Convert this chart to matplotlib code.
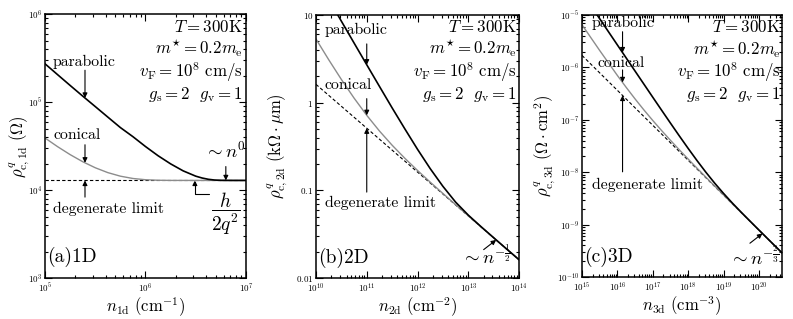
import numpy as np
import matplotlib
matplotlib.use("Agg")
import matplotlib.pyplot as plt
from matplotlib.ticker import FixedLocator, LogLocator, FuncFormatter, NullFormatter

plt.rcParams['font.family'] = 'serif'
plt.rcParams['font.serif'] = ['cmr10']
plt.rcParams['mathtext.fontset'] = 'cm'
plt.rcParams['axes.unicode_minus'] = False
plt.rcParams['axes.formatter.use_mathtext'] = True

# ---- data (log10 of density, resistance values) ----
# (a) 1D, n in cm^-1, rho in Ohm
logn_1d_par = [5.0, 5.125, 5.25, 5.375, 5.5, 5.625, 5.75, 5.875, 6.0, 6.125, 6.25,
               6.375, 6.5, 6.5625, 6.625, 6.6875, 6.75, 6.875, 7.0]
rho_1d_par = [2.722e5, 2.050e5, 1.546e5, 1.170e5, 8.90e4, 6.759e4, 5.14e4, 4.05e4,
              3.13e4, 2.462e4, 1.99e4, 1.657e4, 1.443e4, 1.376e4, 1.330e4, 1.304e4,
              1.294e4, 1.2907e4, 1.2906e4]
logn_1d_con = [5.0, 5.125, 5.25, 5.375, 5.5, 5.625, 5.75, 5.875, 6.0, 6.125, 6.25, 6.5, 7.0]
rho_1d_con = [3.914e4, 3.121e4, 2.535e4, 2.106e4, 1.798e4, 1.5836e4, 1.4427e4, 1.3582e4,
              1.3147e4, 1.2968e4, 1.2916e4, 1.2906e4, 1.2906e4]
logn_1d_deg = [5.0, 7.0]
rho_1d_deg = [1.2906e4, 1.2906e4]

# (b) 2D, n in cm^-2, rho in kOhm um
logn_2d = [10.0, 10.25, 10.5, 10.75, 11.0, 11.25, 11.5, 11.75, 12.0, 12.25, 12.5,
           12.75, 13.0, 13.25, 13.5, 13.75, 14.0]
rho_2d_par = [26.8, 15.10, 8.50, 4.794, 2.707, 1.534, 0.872, 0.503, 0.294, 0.177, 0.1112,
              0.0735, 0.0522, 0.0386, 0.02882, 0.02157, 0.01618]
rho_2d_con = [5.32, 3.093, 1.839, 1.128, 0.7173, 0.4752, 0.3271, 0.2322, 0.1686, 0.1241,
              0.09213, 0.06869, 0.05135, 0.03844, 0.02880, 0.02158, 0.01618]
logn_2d_deg = [10.0, 14.0]
rho_2d_deg = [1.617, 0.01617]

# (c) 3D, n in cm^-3, rho in Ohm cm^2
logn_3d = [15.0, 15.5, 16.0, 16.5, 17.0, 17.25, 17.5, 17.75, 18.0, 18.25, 18.5, 18.75,
           19.0, 19.25, 19.5, 19.75, 20.0, 20.25, 20.5, 20.65]
rho_3d_par = [2.68e-5, 8.48e-6, 2.683e-6, 8.50e-7, 2.698e-7, 1.525e-7, 8.65e-8, 4.938e-8,
              2.848e-8, 1.670e-8, 1.0012e-8, 6.186e-9, 3.942e-9, 2.577e-9, 1.722e-9,
              1.164e-9, 7.89e-10, 5.368e-10, 3.653e-10, 2.902e-10]
logn_3d_con = [15.0, 15.5, 16.0, 16.25, 16.5, 16.75, 17.0, 17.25, 17.5, 17.75, 18.0, 18.25,
               18.5, 18.75, 19.0, 19.5, 20.0, 20.5, 20.65]
rho_3d_con = [6.514e-6, 2.102e-6, 7.018e-7, 4.149e-7, 2.503e-7, 1.542e-7, 9.713e-8, 6.231e-8,
              4.061e-8, 2.678e-8, 1.7838e-8, 1.1961e-8, 8.058e-9, 5.447e-9, 3.692e-9,
              1.7033e-9, 7.885e-10, 3.655e-10, 2.903e-10]
logn_3d_deg = [15.0, 20.65]
rho_3d_deg = [1.694e-6, 2.899e-10]

params = [r'$T=300{\rm K}$', r'$m^{\star}=0.2m_{\rm e}$',
          r'$v_{\rm F}=10^{8}\ {\rm cm/s}$', r'$g_{\rm s}=2\ \ g_{\rm v}=1$']

FS = 11.3    # words on the plot
FP = 12.2    # parameter block
FX = 12      # x labels
FY = 12      # y labels
FT = 14      # panel tags
fig = plt.figure(figsize=(7.93, 3.19), dpi=100)
ax1 = fig.add_axes([45/793, 1-278.3/319, 201/793, 264.3/319])
ax2 = fig.add_axes([316/793, 1-278/319, 203/793, 263/319])
ax3 = fig.add_axes([582/793, 1-277/319, 200/793, 262/319])


def pow_fmt(v, pos):
    e = int(round(np.log10(v)))
    return r'$\mathsf{10^{%d}}$' % e


def style(ax):
    ax.set_xscale('log')
    ax.set_yscale('log')
    ax.tick_params(which='both', direction='in', top=True, right=True,
                   labelsize=6.5, width=0.8)
    ax.tick_params(axis='x', which='both', pad=2.5)
    ax.tick_params(axis='y', which='both', pad=2)
    ax.tick_params(which='major', length=5)
    ax.tick_params(which='minor', length=2.5)
    ax.xaxis.set_minor_locator(LogLocator(base=10, subs=np.arange(2, 10)))
    ax.yaxis.set_minor_locator(LogLocator(base=10, subs=np.arange(2, 10)))
    ax.xaxis.set_minor_formatter(NullFormatter())
    ax.yaxis.set_minor_formatter(NullFormatter())
    for s in ax.spines.values():
        s.set_linewidth(1.1)
    ax.xaxis.set_label_coords(0.5, -0.066)


def on_curve(logn, rho, x):
    return 10 ** np.interp(np.log10(x), logn, np.log10(rho))


def arrow(ax, xy, dx, dy):
    ax.annotate('', xy=xy, xytext=(dx, dy), textcoords='offset points',
                arrowprops=dict(arrowstyle='-|>', color='black', lw=0.8,
                                mutation_scale=7, shrinkA=0, shrinkB=0))


def draw(ax, lp, rp, lc, rc, ld, rd):
    ax.plot(10 ** np.array(ld), rd, color='black', lw=0.8, ls=(0, (3, 2)))
    ax.plot(10 ** np.array(lc), rc, color='#8c8c8c', lw=1.0)
    ax.plot(10 ** np.array(lp), rp, color='black', lw=1.2)


def param_box(ax, xr, ys):
    for t, y in zip(params, ys):
        ax.text(xr, y, t, transform=ax.transAxes, ha='right', va='center', fontsize=FP)


# ---------------- (a) 1D ----------------
style(ax1)
draw(ax1, logn_1d_par, rho_1d_par, logn_1d_con, rho_1d_con, logn_1d_deg, rho_1d_deg)
ax1.set_xlim(1e5, 1e7)
ax1.set_ylim(1e3, 1e6)
ax1.xaxis.set_major_locator(FixedLocator([1e5, 1e6, 1e7]))
ax1.yaxis.set_major_locator(FixedLocator([1e3, 1e4, 1e5, 1e6]))
ax1.xaxis.set_major_formatter(FuncFormatter(pow_fmt))
ax1.yaxis.set_major_formatter(FuncFormatter(pow_fmt))
ax1.set_xlabel(r'$n_{\rm 1d}\ ({\rm cm}^{-1})$', fontsize=FX)
ax1.set_ylabel(r'$\rho^{q}_{\rm c,1d}\ (\Omega)$', fontsize=FY)
ax1.yaxis.set_label_coords(-0.065, 0.5)
param_box(ax1, 0.985, [0.951, 0.868, 0.781, 0.694])
xa = 2.5e5
ax1.text(0.04, 0.818, 'parabolic', transform=ax1.transAxes, fontsize=FS, va='center')
arrow(ax1, (xa, on_curve(logn_1d_par, rho_1d_par, xa)), 0, 20)
ax1.text(0.04, 0.542, 'conical', transform=ax1.transAxes, fontsize=FS, va='center')
arrow(ax1, (xa, on_curve(logn_1d_con, rho_1d_con, xa)), 0, 13)
ax1.text(0.04, 0.262, 'degenerate limit', transform=ax1.transAxes, fontsize=FS, va='center')
arrow(ax1, (xa, 1.2906e4), 0, -12)
ax1.text(0.895, 0.478, r'$\sim n^{0}$', transform=ax1.transAxes, fontsize=13.5,
         ha='center', va='center')
arrow(ax1, (6.3e6, 1.2906e4), 0, 10)
ax1.text(0.90, 0.245, r'$\dfrac{h}{2q^{2}}$', transform=ax1.transAxes, fontsize=14,
         ha='center', va='center')
ax1.annotate('', xy=(3.1e6, 1.2906e4), xytext=(4.3e6, 9.0e3),
             arrowprops=dict(arrowstyle='-|>', color='black', lw=0.8, mutation_scale=7,
                             shrinkA=0, shrinkB=0,
                             connectionstyle='angle,angleA=0,angleB=90,rad=0'))
ax1.text(0.01, 0.081, '(a)1D', transform=ax1.transAxes, fontsize=FT, va='center')

# ---------------- (b) 2D ----------------
style(ax2)
draw(ax2, logn_2d, rho_2d_par, logn_2d, rho_2d_con, logn_2d_deg, rho_2d_deg)
ax2.set_xlim(1e10, 1e14)
ax2.set_ylim(0.01, 10)
ax2.xaxis.set_major_locator(FixedLocator([1e10, 1e11, 1e12, 1e13, 1e14]))
ax2.yaxis.set_major_locator(FixedLocator([0.01, 0.1, 1, 10]))
ax2.xaxis.set_major_formatter(FuncFormatter(pow_fmt))
ax2.yaxis.set_major_formatter(FuncFormatter(
    lambda v, p: r'$\mathsf{%s}$' % {0.01: '0.01', 0.1: '0.1', 1: '1', 10: '10'}.get(
        round(v, 2), '')))
ax2.set_xlabel(r'$n_{\rm 2d}\ ({\rm cm}^{-2})$', fontsize=FX)
ax2.set_ylabel(r'$\rho^{q}_{\rm c,2d}\ ({\rm k}\Omega\cdot\mu{\rm m})$', fontsize=FY)
ax2.yaxis.set_label_coords(-0.13, 0.5)
param_box(ax2, 0.99, [0.954, 0.871, 0.783, 0.696])
xb = 1e11
ax2.text(0.044, 0.943, 'parabolic', transform=ax2.transAxes, fontsize=FS, va='center')
arrow(ax2, (xb, on_curve(logn_2d, rho_2d_par, xb)), 0, 15)
ax2.text(0.044, 0.734, 'conical', transform=ax2.transAxes, fontsize=FS, va='center')
arrow(ax2, (xb, on_curve(logn_2d, rho_2d_con, xb)), 0, 12)
ax2.text(0.044, 0.285, 'degenerate limit', transform=ax2.transAxes, fontsize=FS, va='center')
arrow(ax2, (xb, on_curve(logn_2d_deg, rho_2d_deg, xb)), 0, -46)
ax2.text(0.84, 0.084, r'$\sim n^{-\frac{1}{2}}$', transform=ax2.transAxes, fontsize=13.5,
         ha='center', va='center')
xt = 10 ** 13.55
arrow(ax2, (xt, on_curve(logn_2d, rho_2d_par, xt)), -9, -7)
ax2.text(0.01, 0.076, '(b)2D', transform=ax2.transAxes, fontsize=FT, va='center')

# ---------------- (c) 3D ----------------
style(ax3)
draw(ax3, logn_3d, rho_3d_par, logn_3d_con, rho_3d_con, logn_3d_deg, rho_3d_deg)
ax3.set_xlim(1e15, 4.5e20)
ax3.set_ylim(1e-10, 1e-5)
ax3.xaxis.set_major_locator(FixedLocator([1e15, 1e16, 1e17, 1e18, 1e19, 1e20]))
ax3.yaxis.set_major_locator(FixedLocator([1e-10, 1e-9, 1e-8, 1e-7, 1e-6, 1e-5]))
ax3.xaxis.set_major_formatter(FuncFormatter(pow_fmt))
ax3.yaxis.set_major_formatter(FuncFormatter(pow_fmt))
ax3.set_xlabel(r'$n_{\rm 3d}\ ({\rm cm}^{-3})$', fontsize=FX)
ax3.set_ylabel(r'$\rho^{q}_{\rm c,3d}\ (\Omega\cdot{\rm cm}^{2})$', fontsize=FY)
ax3.yaxis.set_label_coords(-0.125, 0.5)
param_box(ax3, 0.995, [0.954, 0.870, 0.782, 0.695])
xc = 1.4e16
ax3.text(0.05, 0.969, 'parabolic', transform=ax3.transAxes, fontsize=FS, va='center')
arrow(ax3, (xc, on_curve(logn_3d, rho_3d_par, xc)), 0, 15)
ax3.text(0.075, 0.817, 'conical', transform=ax3.transAxes, fontsize=FS, va='center')
arrow(ax3, (xc, on_curve(logn_3d_con, rho_3d_con, xc)), 0, 9)
ax3.text(0.05, 0.351, 'degenerate limit', transform=ax3.transAxes, fontsize=FS, va='center')
arrow(ax3, (xc, on_curve(logn_3d_deg, rho_3d_deg, xc)), 0, -55)
ax3.text(0.86, 0.076, r'$\sim n^{-\frac{2}{3}}$', transform=ax3.transAxes, fontsize=13.5,
         ha='center', va='center')
xt = 10 ** 20.1
arrow(ax3, (xt, on_curve(logn_3d, rho_3d_par, xt)), -9, -7)
ax3.text(0.01, 0.076, '(c)3D', transform=ax3.transAxes, fontsize=FT, va='center')

fig.savefig('out.png', dpi=100)
